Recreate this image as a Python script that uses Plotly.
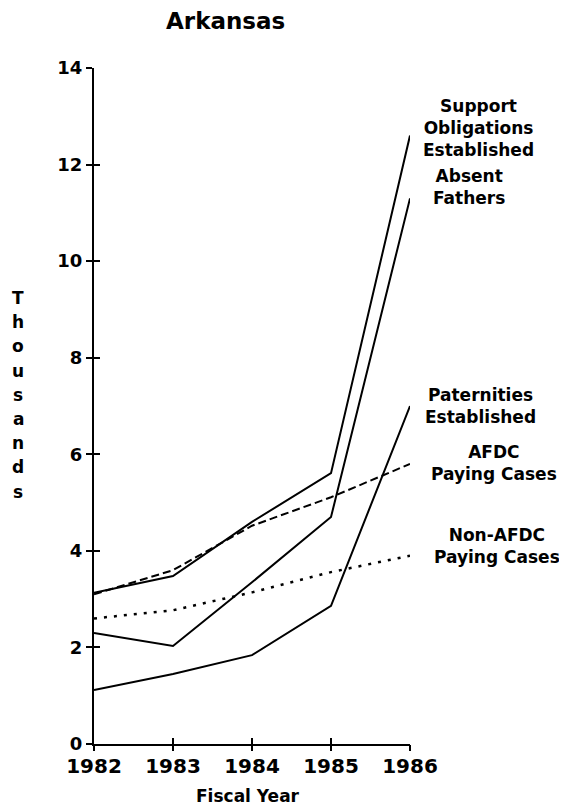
import plotly.graph_objects as go

years = [1982, 1983, 1984, 1985, 1986]
support_obligations = [3.13, 3.48, 4.6, 5.61, 12.6]
absent_fathers = [2.3, 2.03, 3.35, 4.7, 11.3]
paternities = [1.12, 1.45, 1.84, 2.86, 7.0]
afdc_paying = [3.1, 3.6, 4.52, 5.11, 5.8]
non_afdc_paying = [2.6, 2.77, 3.14, 3.56, 3.9]
yticks = [0, 2, 4, 6, 8, 10, 12, 14]

FONT = "DejaVu Sans"
BLACK = "black"

# page has an 8px body margin, so plot area is placed with that in mind
L, T = 86, 60
PW, PH = 316, 676


def px(x):
    # page pixel x -> paper x
    return (x - 94) / PW


def py(y):
    # page pixel y -> paper y
    return (744 - y) / PH


fig = go.Figure()

series = [
    ("Support Obligations Established", support_obligations, "solid", 2),
    ("Absent Fathers", absent_fathers, "solid", 2),
    ("Paternities Established", paternities, "solid", 2),
    ("AFDC Paying Cases", afdc_paying, "8px,4px", 2),
    ("Non-AFDC Paying Cases", non_afdc_paying, "3px,7px", 2.5),
]
for name, vals, dash, w in series:
    fig.add_trace(go.Scatter(x=years, y=vals, mode="lines", name=name,
                             line=dict(color=BLACK, width=w, dash=dash)))

# end-of-line labels (center in page pixels)
labels = [
    ("Support<br>Obligations<br>Established", 478, 128),
    ("Absent<br>Fathers", 469, 187),
    ("Paternities<br>Established", 480, 406),
    ("AFDC<br>Paying Cases", 494, 463),
    ("Non-AFDC<br>Paying Cases", 497, 546),
]
for txt, x, y in labels:
    fig.add_annotation(text=txt, x=px(x), y=py(y), xref="paper", yref="paper",
                       xanchor="center", yanchor="middle",
                       showarrow=False, align="center",
                       font=dict(family=FONT, size=17, color=BLACK, weight="bold"))

fig.add_annotation(text="Arkansas", x=px(225), y=py(21), xref="paper", yref="paper",
                   xanchor="center", yanchor="middle", showarrow=False,
                   font=dict(family=FONT, size=23, color=BLACK, weight="bold"))
fig.add_annotation(text="Fiscal Year", x=px(248), y=py(796), xref="paper", yref="paper",
                   xanchor="center", yanchor="middle", showarrow=False,
                   font=dict(family=FONT, size=17, color=BLACK, weight="bold"))

# stacked y axis title
for i, ch in enumerate("Thousands"):
    fig.add_annotation(text=ch, x=px(18), y=py(298 + i * 24.2), xref="paper", yref="paper",
                       xanchor="center", yanchor="middle", showarrow=False,
                       font=dict(family=FONT, size=17, color=BLACK, weight="bold"))

fig.update_layout(
    width=567, height=808,
    margin=dict(l=L, r=567 - L - PW, t=T, b=808 - T - PH),
    plot_bgcolor="white", paper_bgcolor="white",
    showlegend=False,
    xaxis=dict(range=[1982, 1986], tickvals=years, showgrid=False, zeroline=False,
               showline=True, linecolor=BLACK, linewidth=2,
               ticks="inside", ticklen=6, tickwidth=2, tickcolor=BLACK,
               ticklabelstandoff=3,
               tickfont=dict(family=FONT, size=20, color=BLACK, weight="bold")),
    yaxis=dict(range=[0, 14], tickvals=yticks, showgrid=False, zeroline=False,
               showline=True, linecolor=BLACK, linewidth=2,
               ticks="outside", ticklen=6, tickwidth=2, tickcolor=BLACK,
               tickfont=dict(family=FONT, size=18, color=BLACK, weight="bold")),
    # second axes give the ticks their other half, so they cross the axis line
    xaxis2=dict(overlaying="x", anchor="y2", range=[1982, 1986], tickvals=years, side="bottom",
                ticks="outside", ticklen=6, tickwidth=2, tickcolor=BLACK,
                showticklabels=False, showgrid=False, zeroline=False),
    yaxis2=dict(overlaying="y", anchor="x2", range=[0, 14], tickvals=yticks, side="left",
                ticks="inside", ticklen=6, tickwidth=2, tickcolor=BLACK,
                showticklabels=False, showgrid=False, zeroline=False),
)
fig.add_trace(go.Scatter(x=[1982], y=[0], xaxis="x2", yaxis="y2", mode="markers",
                         marker=dict(opacity=0), hoverinfo="skip", showlegend=False))

fig.write_html("out.html")
